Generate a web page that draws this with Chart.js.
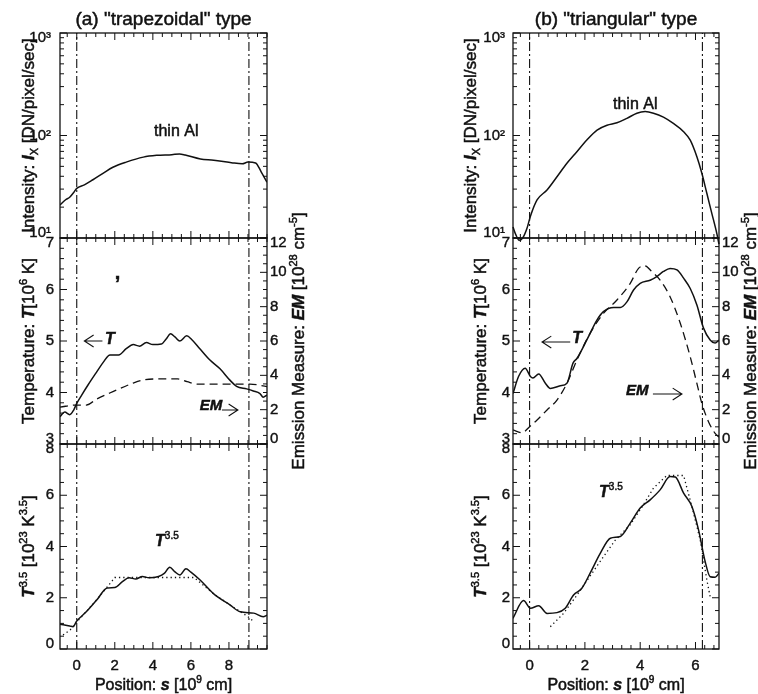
<!DOCTYPE html>
<html lang="en">

<head>
    <meta charset="UTF-8">
    <meta name="viewport" content="width=device-width, initial-scale=1.0">
    <title>Loop profiles | trapezoidal vs triangular</title>
    <script src="https://cdn.jsdelivr.net/npm/chart.js"></script>
    <style>
        body { margin: 0; background: #fff; }
        .page { position: relative; width: 758px; height: 694px; overflow: hidden; }
        .page canvas { position: absolute; left: 0; top: 0; }
    </style>
</head>

<body>
    <div class="page">
        <canvas id="aTop" width="758" height="694"></canvas>
        <canvas id="aMid" width="758" height="694"></canvas>
        <canvas id="aBot" width="758" height="694"></canvas>
        <canvas id="bTop" width="758" height="694"></canvas>
        <canvas id="bMid" width="758" height="694"></canvas>
        <canvas id="bBot" width="758" height="694"></canvas>
    </div>

    <script>
        const INK = '#111';
        const FONT = "'Liberation Sans', Arial, Helvetica, sans-serif";

        // (a) "trapezoidal" type, position s in 10^9 cm
        const A_INT_S = [-0.88, -0.6, -0.37, -0.15, 0, 0.4, 0.85, 1.4, 1.9, 2.6, 3.5, 4.2, 5.0, 5.4, 5.7, 6.5, 7.2, 8.2, 8.7, 9.0, 9.4, 9.7, 10.0];
        const A_INT = [21, 23.5, 25, 28, 30.5, 33, 37, 43, 49, 55, 61.5, 64, 65, 66, 64.5, 59, 57.5, 54, 53, 55, 54, 44, 35];

        const A_T_S = [-0.88, -0.63, -0.37, -0.16, 0, 0.26, 0.6, 1.05, 1.4, 1.75, 2.2, 2.6, 2.97, 3.3, 3.66, 4.0, 4.45, 4.7, 4.93, 5.16, 5.42, 5.78, 6.04, 6.47, 7.0, 7.53, 8.05, 8.4, 8.93, 9.28, 9.63, 9.8, 10.0];
        const A_T = [3.53, 3.62, 3.57, 3.66, 3.79, 3.95, 4.15, 4.4, 4.59, 4.73, 4.73, 4.85, 4.93, 4.9, 4.97, 4.93, 4.94, 5.04, 5.14, 5.08, 5.0, 5.1, 5.03, 4.85, 4.63, 4.46, 4.24, 4.12, 4.07, 4.03, 3.98, 3.91, 3.95];

        const A_EM_S = [-0.88, 0, 0.5, 1.05, 1.9, 2.97, 3.5, 4.4, 5.3, 5.8, 6.35, 7.2, 8.3, 9.1, 10.0];
        const A_EM = [2.15, 2.27, 2.27, 2.62, 3.05, 3.55, 3.73, 3.79, 3.79, 3.63, 3.49, 3.49, 3.49, 3.49, 3.34];

        const A_P_S = [-0.88, -0.37, -0.2, 0, 0.5, 1.05, 1.6, 2.0, 2.4, 2.75, 3.1, 3.45, 3.8, 4.3, 4.6, 4.89, 5.15, 5.42, 5.74, 6.0, 6.47, 7.2, 8.05, 8.6, 9.3, 9.8, 10.0];
        const A_P = [0.97, 0.9, 0.87, 1.09, 1.45, 1.91, 2.38, 2.4, 2.63, 2.78, 2.73, 2.83, 2.78, 2.83, 2.95, 3.19, 3.02, 2.89, 3.13, 3.0, 2.7, 2.15, 1.72, 1.45, 1.4, 1.26, 1.32];

        const A_PF_S = [-0.72, -0.35, 0, 1.0, 1.83, 2.0, 6.17, 7.2, 8.05, 9.0, 9.3];
        const A_PF = [0.55, 0.74, 1.05, 1.88, 2.63, 2.79, 2.79, 2.15, 1.72, 1.26, 1.07];

        const A_EDGES = [0, 9.05];

        // (b) "triangular" type
        const B_INT_S = [-0.6, -0.5, -0.38, -0.25, -0.1, 0.03, 0.27, 0.63, 0.99, 1.35, 1.71, 2.07, 2.44, 2.8, 3.16, 3.52, 3.88, 4.18, 4.48, 4.84, 5.2, 5.57, 5.81, 6.05, 6.23, 6.41, 6.59, 6.77, 6.85];
        const B_INT = [12.8, 10.8, 9.5, 10.0, 12.3, 16.3, 23.5, 29.4, 39.6, 53.6, 69.5, 90.4, 113, 126, 133, 147, 165, 171, 165, 151, 131, 109, 90, 62, 42.8, 27.3, 17.4, 11.1, 8.7];

        const B_T_S = [-0.6, -0.4, -0.16, 0.03, 0.12, 0.33, 0.57, 0.75, 1.11, 1.35, 1.57, 1.71, 2.07, 2.44, 2.67, 3.04, 3.28, 3.52, 3.76, 4.0, 4.36, 4.6, 4.84, 5.08, 5.33, 5.57, 5.81, 6.05, 6.29, 6.53, 6.71, 6.85];
        const B_T = [3.98, 4.31, 4.47, 4.31, 4.28, 4.36, 4.18, 4.08, 4.13, 4.18, 4.57, 4.66, 5.02, 5.41, 5.57, 5.65, 5.65, 5.76, 5.99, 6.12, 6.18, 6.25, 6.35, 6.41, 6.38, 6.22, 6.02, 5.7, 5.25, 5.02, 4.96, 5.02];

        const B_EM_S = [-0.6, -0.27, 0, 0.27, 0.63, 0.99, 1.35, 1.71, 2.19, 2.67, 3.16, 3.64, 3.94, 4.18, 4.42, 4.72, 5.08, 5.45, 5.81, 6.05, 6.23, 6.47, 6.71, 6.85];
        const B_EM = [0.82, 0.66, 1.01, 1.4, 1.98, 2.56, 3.53, 4.89, 6.45, 7.61, 8.39, 9.36, 10.23, 10.37, 10.04, 9.55, 8.58, 7.03, 5.08, 3.53, 2.37, 1.3, 0.62, 0.4];

        const B_P_S = [-0.6, -0.22, 0.03, 0.33, 0.63, 0.99, 1.29, 1.59, 1.89, 2.19, 2.56, 2.92, 3.28, 3.64, 4.0, 4.36, 4.72, 5.08, 5.27, 5.57, 5.87, 6.11, 6.35, 6.53, 6.71, 6.85];
        const B_P = [1.2, 1.89, 1.59, 1.69, 1.39, 1.42, 1.59, 2.11, 2.37, 2.96, 3.74, 4.32, 4.39, 4.91, 5.5, 5.82, 6.21, 6.73, 6.71, 6.08, 5.56, 4.65, 3.41, 2.82, 2.8, 2.96];

        const B_PF_S = [0.75, 1.23, 1.71, 2.19, 2.67, 3.1, 3.64, 4.1, 4.48, 4.96, 5.57, 5.87, 6.17, 6.41, 6.53];
        const B_PF = [0.87, 1.39, 2.1, 2.85, 3.6, 4.25, 4.85, 5.6, 6.28, 6.77, 6.77, 5.56, 4.26, 2.7, 2.04];

        const B_EDGES = [0, 6.25];

        // ticks
        const X_TICKS_A = [0, 2, 4, 6, 8];
        const X_TICKS_B = [0, 2, 4, 6];
        const INT_TICKS = [10, 100, 1000];
        const INT_TICK_LABELS = ['10¹', '10²', '10³'];
        const T_TICKS = [3, 4, 5, 6, 7];
        const EM_TICKS = [0, 2, 4, 6, 8, 10, 12];
        const P_TICKS = [0, 2, 4, 6, 8];

        // axis titles: [text, flags]  b=bold i=italic ^=sup _=sub
        const TXT_INT = [['Intensity: '], ['I', 'bi'], ['X', '_'], [' [DN/pixel/sec]']];
        const TXT_T = [['Temperature: '], ['T', 'bi'], ['[10'], ['6', '^'], [' K]']];
        const TXT_P = [['T', 'bi'], ['3.5', '^'], [' [10'], ['23', '^'], [' K'], ['3.5', '^'], [']']];
        const TXT_EM = [['Emission Measure: '], ['EM', 'bi'], [' [10'], ['28', '^'], [' cm'], ['-5', '^'], [']']];
        const TXT_S = [['Position: '], ['s', 'bi'], [' [10'], ['9', '^'], [' cm]']];
        const Y_TITLES = { top: TXT_INT, mid: TXT_T, bot: TXT_P };

        // layout
        const COL_A = {
            left: 60, right: 267, xmin: -0.88, xmax: 10.0, xticks: X_TICKS_A, minor: 0.5, edges: A_EDGES,
            padLog: 9, padL: 6, padR: 3, titleOff: { top: 32, mid: 32, bot: 32 }
        };
        const COL_B = {
            left: 513, right: 719, xmin: -0.6, xmax: 6.85, xticks: X_TICKS_B, minor: 1 / 3, edges: B_EDGES,
            padLog: 8, padL: 3, padR: 3, titleOff: { top: 43, mid: 33, bot: 33 }
        };
        const ROWS = { top: [33, 238], mid: [238, 444], bot: [444, 649] };
        const AXIS_W = 50, EM_W = 30, X_H = 30;

        const AX_INT = { type: 'logarithmic', min: 10, max: 1000, ticks: INT_TICKS, labels: INT_TICK_LABELS };
        const AX_T = { min: 3, max: 7, ticks: T_TICKS, minor: 0.2 };
        const AX_EM = { min: 0, max: 12, ticks: EM_TICKS, minor: 0.5 };
        const AX_P = { min: 0, max: 8, ticks: P_TICKS, minor: 0.5 };

        const pts = (xs, ys) => xs.map((x, i) => ({ x, y: ys[i] }));

        function solid(xs, ys, extra) {
            return Object.assign({ data: pts(xs, ys), borderColor: INK, borderWidth: 1.5, pointRadius: 0, fill: false, cubicInterpolationMode: 'monotone' }, extra);
        }
        function dashed(xs, ys, axis) {
            return solid(xs, ys, { yAxisID: axis, borderDash: [8, 5], borderWidth: 1.3 });
        }
        function dotted(xs, ys) {
            return solid(xs, ys, { borderDash: [1.3, 3], borderWidth: 1.3, cubicInterpolationMode: 'default', tension: 0 });
        }
        function edge(s, lo, hi) {
            return { data: [{ x: s, y: lo }, { x: s, y: hi }], borderColor: INK, borderWidth: 1.1, borderDash: [9, 3, 2, 3], pointRadius: 0, tension: 0 };
        }

        function linMarks(min, max, step, majors) {
            const out = [];
            for (let k = Math.ceil(min / step - 1e-6); k * step <= max + 1e-6; k++) {
                const v = k * step;
                out.push([v, majors.some(t => Math.abs(t - v) < 1e-6) ? 7 : 4]);
            }
            return out;
        }
        function axisMarks(ax) {
            if (ax.type === 'logarithmic') {
                const out = [];
                for (let d = ax.min; d < ax.max; d *= 10)
                    for (let k = 2; k < 10; k++) out.push([d * k, 4]);
                ax.ticks.forEach(v => out.push([v, 7]));
                return out;
            }
            return linMarks(ax.min, ax.max, ax.minor, ax.ticks);
        }

        function richText(ctx, segs, x, y, size, rot) {
            const parts = segs.map(([t, f = '']) => {
                const small = f.includes('^') || f.includes('_');
                const sz = small ? Math.round(size * 0.62) : size;
                const font = (f.includes('i') ? 'italic ' : '') + (f.includes('b') ? 'bold ' : '') + sz + 'px ' + FONT;
                ctx.font = font;
                return { t, font, w: ctx.measureText(t).width, dy: f.includes('^') ? -size * 0.4 : f.includes('_') ? size * 0.25 : 0 };
            });
            const total = parts.reduce((s, p) => s + p.w, 0);
            ctx.save();
            ctx.translate(x, y);
            if (rot) ctx.rotate(rot);
            ctx.fillStyle = INK;
            ctx.strokeStyle = INK;
            ctx.lineWidth = 0.5;
            ctx.textBaseline = 'alphabetic';
            ctx.textAlign = 'left';
            let cx = -total / 2;
            for (const p of parts) {
                ctx.font = p.font;
                ctx.fillText(p.t, cx, size * 0.36 + p.dy);
                ctx.strokeText(p.t, cx, size * 0.36 + p.dy);
                cx += p.w;
            }
            ctx.restore();
        }

        function arrow(ctx, x1, y1, x2, y2) {
            const ang = Math.atan2(y2 - y1, x2 - x1), L = 11, H = 0.57;
            ctx.beginPath();
            ctx.moveTo(x1, y1);
            ctx.lineTo(x2, y2);
            ctx.moveTo(x2 - L * Math.cos(ang - H), y2 - L * Math.sin(ang - H));
            ctx.lineTo(x2, y2);
            ctx.lineTo(x2 - L * Math.cos(ang + H), y2 - L * Math.sin(ang + H));
            ctx.stroke();
        }

        function decor(col, row, spec) {
            return {
                id: 'decor',
                afterDraw(chart) {
                    const ctx = chart.ctx, a = chart.chartArea;
                    const xs = chart.scales.x, ys = chart.scales.y, yr = chart.scales.em || ys;
                    ctx.save();
                    ctx.strokeStyle = INK;
                    ctx.lineWidth = 1;
                    ctx.beginPath();
                    for (const [v, len] of linMarks(col.xmin, col.xmax, col.minor, col.xticks)) {
                        const px = xs.getPixelForValue(v);
                        ctx.moveTo(px, a.top); ctx.lineTo(px, a.top + len);
                        ctx.moveTo(px, a.bottom); ctx.lineTo(px, a.bottom - len);
                    }
                    for (const [v, len] of axisMarks(spec.y)) {
                        const py = ys.getPixelForValue(v);
                        ctx.moveTo(a.left, py); ctx.lineTo(a.left + len, py);
                    }
                    for (const [v, len] of axisMarks(spec.em || spec.y)) {
                        const py = yr.getPixelForValue(v);
                        ctx.moveTo(a.right, py); ctx.lineTo(a.right - len, py);
                    }
                    ctx.stroke();
                    ctx.lineWidth = 1.3;
                    ctx.strokeRect(a.left, a.top, a.right - a.left, a.bottom - a.top);

                    const midY = (a.top + a.bottom) / 2, midX = (a.left + a.right) / 2;
                    richText(ctx, Y_TITLES[row], a.left - col.titleOff[row], midY, 17, -Math.PI / 2);
                    if (spec.em) richText(ctx, TXT_EM, a.right + 31, midY, 17, -Math.PI / 2);
                    if (spec.title) richText(ctx, spec.title, midX, 18, 19);
                    if (row === 'bot') richText(ctx, TXT_S, midX, 684, 16);

                    (spec.notes || []).forEach(n => {
                        const sc = n.axis ? chart.scales[n.axis] : ys;
                        richText(ctx, n.segs, xs.getPixelForValue(n.at[0]), sc.getPixelForValue(n.at[1]), n.size);
                    });
                    ctx.lineWidth = 1.1;
                    (spec.arrows || []).forEach(r => {
                        const sc = r.axis ? chart.scales[r.axis] : ys;
                        arrow(ctx, xs.getPixelForValue(r.from[0]), sc.getPixelForValue(r.from[1]),
                            xs.getPixelForValue(r.to[0]), sc.getPixelForValue(r.to[1]));
                    });
                    ctx.restore();
                }
            };
        }

        function yScale(ax, position, pad, width) {
            return {
                type: ax.type || 'linear', position, min: ax.min, max: ax.max,
                grid: { display: false, drawTicks: false }, border: { display: false },
                afterFit: s => { s.width = width; },
                afterBuildTicks: s => { s.ticks = ax.ticks.map(v => ({ value: v })); },
                ticks: {
                    autoSkip: false, padding: pad, color: INK,
                    textStrokeColor: INK, textStrokeWidth: 0.4,
                    font: { family: FONT, size: 15, lineHeight: 0.7 },
                    // end labels are nudged inward so neighbouring panels don't collide
                    callback: (v, i, arr) => {
                        const lab = ax.labels ? ax.labels[i] : String(v);
                        if (i === 0) return [lab, ''];
                        if (i === arr.length - 1) return ['', lab];
                        return lab;
                    }
                }
            };
        }

        function panel(id, col, row, spec) {
            const [top, bottom] = ROWS[row];
            const isBottom = row === 'bot';
            const xh = isBottom ? X_H : 0;
            const emw = spec.em ? EM_W : 0;
            const padY = spec.y.type === 'logarithmic' ? col.padLog : col.padL;
            const datasets = col.edges.map(s => edge(s, spec.y.min, spec.y.max)).concat(spec.series);
            const scales = {
                x: {
                    type: 'linear', min: col.xmin, max: col.xmax,
                    grid: { display: false, drawTicks: false }, border: { display: false },
                    afterFit: s => { s.height = xh; },
                    afterBuildTicks: s => { s.ticks = col.xticks.map(v => ({ value: v })); },
                    ticks: {
                        display: isBottom, autoSkip: false, maxRotation: 0, padding: 12, color: INK,
                        textStrokeColor: INK, textStrokeWidth: 0.4,
                        font: { family: FONT, size: 15, lineHeight: 0.7 }, callback: v => String(v)
                    }
                },
                y: yScale(spec.y, 'left', padY, AXIS_W)
            };
            if (spec.em) scales.em = yScale(spec.em, 'right', col.padR, EM_W);

            new Chart(document.getElementById(id), {
                type: 'line',
                data: { datasets },
                options: {
                    responsive: false, animation: false, events: [],
                    layout: {
                        padding: {
                            left: col.left - AXIS_W, right: 758 - col.right - emw,
                            top, bottom: 694 - bottom - xh
                        }
                    },
                    scales,
                    plugins: { legend: { display: false }, tooltip: { enabled: false } }
                },
                plugins: [decor(col, row, spec)]
            });
        }

        panel('aTop', COL_A, 'top', {
            y: AX_INT,
            series: [solid(A_INT_S, A_INT)],
            title: [['(a) "trapezoidal" type']],
            notes: [{ at: [5.23, 113], segs: [['thin Al']], size: 16 }]
        });
        panel('aMid', COL_A, 'mid', {
            y: AX_T, em: AX_EM,
            series: [solid(A_T_S, A_T), dashed(A_EM_S, A_EM, 'em')],
            notes: [
                { at: [1.74, 5.06], segs: [['T', 'bi']], size: 16 },
                { at: [7.06, 2.27], segs: [['EM', 'bi']], size: 15, axis: 'em' },
                { at: [2.15, 6.35], segs: [[',', 'b']], size: 20 }
            ],
            arrows: [
                { from: [1.35, 5.0], to: [0.4, 5.0] },
                { from: [7.63, 1.98], to: [8.47, 1.98], axis: 'em' }
            ]
        });
        panel('aBot', COL_A, 'bot', {
            y: AX_P,
            series: [dotted(A_PF_S, A_PF), solid(A_P_S, A_P)],
            notes: [{ at: [4.74, 4.26], segs: [['T', 'bi'], ['3.5', '^']], size: 16 }]
        });

        panel('bTop', COL_B, 'top', {
            y: AX_INT,
            series: [solid(B_INT_S, B_INT, { clip: { left: 1, top: 1, right: 1, bottom: 8 } })],
            title: [['(b) "triangular" type']],
            notes: [{ at: [3.82, 207], segs: [['thin Al']], size: 16 }]
        });
        panel('bMid', COL_B, 'mid', {
            y: AX_T, em: AX_EM,
            series: [solid(B_T_S, B_T), dashed(B_EM_S, B_EM, 'em')],
            notes: [
                { at: [1.72, 5.08], segs: [['T', 'bi']], size: 16 },
                { at: [3.89, 3.14], segs: [['EM', 'bi']], size: 15, axis: 'em' }
            ],
            arrows: [
                { from: [1.47, 4.98], to: [0.45, 4.98] },
                { from: [4.46, 2.91], to: [5.51, 2.91], axis: 'em' }
            ]
        });
        panel('bBot', COL_B, 'bot', {
            y: AX_P,
            series: [dotted(B_PF_S, B_PF), solid(B_P_S, B_P)],
            notes: [{ at: [2.94, 6.17], segs: [['T', 'bi'], ['3.5', '^']], size: 16 }]
        });
    </script>

</body>

</html>
